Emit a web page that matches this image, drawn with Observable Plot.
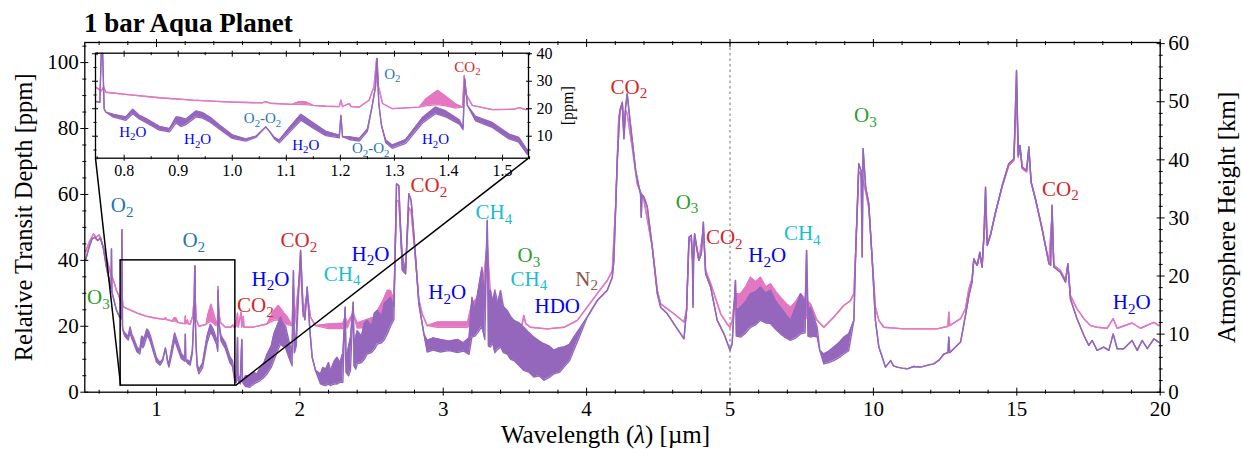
<!DOCTYPE html>
<html><head><meta charset="utf-8">
<script src="https://cdn.jsdelivr.net/npm/d3@7"></script>
<script src="https://cdn.jsdelivr.net/npm/@observablehq/plot@0.6"></script>
<style>
body{margin:0;background:#fff;width:1242px;height:449px;overflow:hidden;position:relative;font-family:"Liberation Serif",serif;}
#title{position:absolute;left:84px;top:10px;font-size:27px;line-height:27px;font-weight:bold;color:#000;white-space:nowrap;}
#chart{position:absolute;left:0;top:36px;}
#inset{position:absolute;left:85px;top:44px;}
</style></head><body>
<div id="title">1 bar Aqua Planet</div>
<div id="chart"></div>
<div id="inset"></div>
<script>
// ---------------- data: [wavelength µm, low ppm, high ppm (optional)] ----------------
const purpleSpectrum = [
[0.505,40],[0.53,44],[0.55,46.5],[0.57,47],[0.59,46],[0.61,46.8],[0.63,43.5],[0.65,38],[0.67,34],
[0.683,31.5],[0.686,43.5],[0.689,30.5],[0.70,28.5],[0.72,25],[0.74,23],[0.755,22.3],[0.759,49.3],[0.763,20],
[0.766,18.8],[0.779,17,18],[0.803,15.8,17],[0.816,18.2,19.8],[0.828,16.3,17.6],[0.840,15,16.5],[0.865,12.2,13.6],
[0.884,11.6,12.8],[0.896,14.8,17],[0.905,13.5,16.8],[0.914,14.2,16.2],[0.933,17,19.2],[0.945,16.6,18.6],[0.96,15,16.8],
[0.976,12.6,14.2],[1.0,9.2,10.5],[1.025,8.2,9],[1.044,9.6,10],[1.062,13.4],[1.07,11.5],[1.078,9,9.6],[1.087,7.6,8.6],
[1.105,11.2,13],[1.127,15.8,18],[1.149,13,15],[1.173,10.2,11.8],[1.198,9.4,10.4],[1.201,17.6],[1.204,9.8],
[1.216,8.8,9.8],[1.235,8.2,9.2],[1.250,11.8,12.6],[1.259,21.2],[1.265,28],[1.268,38.3],[1.271,22],[1.276,14],
[1.284,7.6,8.6],[1.296,5.6,6.8],[1.321,7.4,8.8],[1.352,14.8,16.8],[1.376,18.2,20.6],[1.395,17,19.2],[1.420,14.4,16],
[1.427,12.4,13.2],[1.430,30.9],[1.435,21.2],[1.45,15.6,17.2],[1.481,13.2,15],[1.512,9,10.8],[1.530,7.8,9.6],
[1.545,3.6,5.2],[1.553,3,4],[1.556,3],[1.565,16.5],[1.569,3.5],[1.585,2.5,5],[1.595,16],[1.60,3],[1.62,1.8,5],
[1.65,1.5,5],[1.68,2.5,6],[1.70,3,5.5],[1.726,3.6,7.6],[1.75,4.5,9],[1.772,5.6,11.6],[1.80,7.5,14],[1.819,9.6,17.7],
[1.84,12,20],[1.865,14.7,22.8],[1.88,14,21],[1.90,13.5,20],[1.923,10.6,15.7],[1.946,8,12],[1.955,36.9],[1.962,12],
[1.975,14,18],[2.005,43],[2.023,24.8],[2.035,22],[2.051,31.9],[2.07,18.7],[2.086,10.6],[2.109,6.6],[2.144,2.5,5.6],
[2.16,2.2,7.5],[2.18,2,7],[2.20,2.5,9],[2.214,2,6.6],[2.24,2.5,9.5],[2.26,2.5,10.6],[2.28,3,9],[2.30,3,12],[2.316,25.8],
[2.322,6,10],[2.34,5,14],[2.353,6.6,16.7],[2.372,27.3],[2.378,8,14],[2.39,7,17],[2.40,8.6,18.7],[2.43,9,17],
[2.45,10,21],[2.47,11.6,21.8],[2.50,12,20],[2.52,13,24],[2.54,14.6,24.8],[2.57,15,23],[2.59,16,27],
[2.61,17.7,27.8],[2.632,20,28.8],[2.656,22,26],[2.674,63.2],[2.69,62.7],[2.70,52],[2.714,37,42],[2.737,35.9],
[2.76,60.2],[2.776,58.2],[2.795,48],[2.807,41],[2.83,26.8],[2.865,17.7],[2.888,12.2,15.7],[2.93,12.8,16.5],
[2.98,12.2,16],[3.04,12.6,15.5],[3.1,12,16],[3.14,12.5,15],[3.18,11.5,16.5],[3.2,16.7,28.8],[3.22,17,25],
[3.24,18,30],[3.27,20,37.9],[3.29,16,28],[3.307,52.1],[3.315,14,30],[3.33,13.7,30.9],[3.345,15,27],
[3.36,12,31],[3.38,13,27],[3.40,13.7,30.9],[3.42,12,26],[3.446,11.6,24.8],[3.47,10,23],[3.493,9.6,21.8],
[3.53,8,21],[3.562,6.6,19.7],[3.60,6,18],[3.632,4.6,16.7],[3.67,5,15.5],[3.702,3.6,14.7],[3.74,4.5,14],
[3.772,5.6,12.7],[3.81,6,13.5],[3.842,7.6,13.7],[3.88,9.5,14.5],[3.911,12.7,16.7],[3.958,17.7,19.7],[4.004,22.8],
[4.074,27.8],[4.144,30.9],[4.179,34.9],[4.19,40],[4.202,55.1],[4.214,70.3],[4.232,85.5],[4.249,88],[4.26,76.9],
[4.272,86.5],[4.283,90.6],[4.295,85.5],[4.318,76.4],[4.342,67.3],[4.365,62.2],[4.376,60.2],[4.381,53.1],[4.386,60],
[4.40,59.2],[4.423,56.2],[4.458,44],[4.493,29.9],[4.516,25.8],[4.563,23.8],[4.609,20.7],[4.656,17.7],[4.679,16.2],
[4.697,24.8],[4.714,47],[4.73,47.6],[4.738,40],[4.742,25.8],[4.746,40],[4.753,48.1],[4.783,40],[4.80,42],[4.814,51.6],
[4.83,35.9],[4.865,31.9],[4.911,21.8],[4.958,17.7],[5.0,12.7],[5.076,14.7],[5.19,33.9],[5.22,17,25],[5.37,16.7,25.8],
[5.55,18,27.5],[5.715,19.7,29.9],[5.9,20.5,30.5],[6.06,21.8,31.9],[6.25,21,30],[6.41,20.8,30.9],[6.6,19,27.5],
[6.76,17.7,25.8],[6.95,16.5,23.5],[7.11,15.7,21.8],[7.3,16.5,26],[7.46,17.7,29.9],[7.62,18,27],[7.67,43],[7.72,17,25],
[7.81,16.7,25.8],[7.92,17,23],[8.04,16.7,19.7],[8.13,12.7],[8.27,8.6,11.6],[8.45,9,12.5],[8.62,9.6,13.7],
[8.8,10.5,15],[8.97,11.6,16.7],[9.14,12.6,17.7],[9.32,21.8],[9.38,42],[9.49,69.3],[9.57,67.3],[9.61,41],[9.64,73.9],
[9.73,62.2],[9.84,57.2],[9.96,40],[10.07,21.8],[10.19,13.7],[10.31,10.6],[10.42,7.6],[10.6,9.6],[10.7,8],[10.83,7.6],
[11.0,7.3],[11.18,7.1],[11.4,7.8],[11.64,7.6],[11.9,8.2],[12.1,8.6],[12.3,9.8],[12.46,11.6],[12.6,12],[12.63,16.7],
[12.66,12],[12.8,13.2],[13.04,15.2],[13.21,23.3],[13.33,29.3],[13.44,33.4],[13.5,40.5],[13.62,38.5],[13.71,42.5],
[13.79,38],[13.85,47.1],[13.91,62.2],[13.97,44.5],[14.08,47.6],[14.26,54.6],[14.49,62.7],[14.72,69.3],[14.9,70.8],
[14.99,97.6],[15.05,71.8],[15.11,74.9],[15.19,68.3],[15.34,67.3],[15.42,74.4],[15.5,63.8],[15.65,58.7],[15.88,49.6],
[16.12,39],[16.18,38.5],[16.23,56.7],[16.29,38],[16.52,36.4],[16.7,33.4],[16.78,39],[16.87,28.3],[17.1,22.3],
[17.34,17.2],[17.51,14.2],[17.63,15.7],[17.8,12.7],[18.03,13.7],[18.21,12.7],[18.36,17.7],[18.5,13.2],[18.73,13.2],
[19.02,15.7],[19.2,12.7],[19.37,15.7],[19.55,13.2],[19.78,16.2],[19.95,15.2],[20,15]
];
const pinkSpectrum = [
[0.505,42.5],[0.53,45.5],[0.56,48],[0.58,47],[0.60,47.8],[0.63,44],[0.656,40],[0.68,36],[0.70,33.9],[0.72,31],
[0.737,29.3],[0.75,27.5],[0.758,26.5],[0.762,28],[0.766,26],[0.803,25.2],[0.865,24.0],[0.927,23.1],[0.988,22.5],
[1.055,22.1],[1.062,22.6],[1.07,22],[1.111,21.6],[1.124,21.6,22.6],[1.136,21.5,22.5],[1.15,21.2],[1.173,20.9],
[1.198,20.8],[1.201,23.1],[1.204,20.8],[1.216,21.9],[1.22,20.8],[1.235,20.6],[1.253,23.1],[1.262,27.9],[1.267,38.2],
[1.270,28.5],[1.278,21.9],[1.296,20.0],[1.346,20.6],[1.358,21,23.5],[1.38,21.5,26.7],[1.395,21,24.5],[1.413,20.2,21.8],
[1.426,20.6],[1.429,32.1],[1.432,25.5],[1.444,21.2],[1.481,19.7],[1.52,19.8],[1.531,20.4],[1.543,19.7],[1.553,19.9],
[1.565,24],[1.57,19.8],[1.59,24.3],[1.595,19.8],[1.605,23],[1.61,19.7],[1.68,19.8],[1.77,20.7],[1.82,21.8,24.8],
[1.85,22,26.3],[1.89,21,24],[1.91,20.5,23],[1.946,20.2],[1.955,32],[1.962,20.5],[2.005,38],[2.023,23],[2.051,30],
[2.074,22.8],[2.109,20.2],[2.2,19.3,20.7],[2.3,19.3,20.9],[2.316,23],[2.33,19.5,21],[2.372,24],[2.40,19.5,21],
[2.516,19.8,22.8],[2.58,21,27.8],[2.61,24.8,30.9],[2.632,26,30.9],[2.656,28],[2.674,58],[2.69,58],[2.70,50],
[2.714,40],[2.737,37.5],[2.76,56],[2.776,55],[2.795,46],[2.807,40],[2.83,28],[2.853,23.8],[2.888,20.2],
[2.96,19.7,21.3],[3.17,19.7,21.3],[3.2,20.5,27],[3.27,22,30],[3.307,45],[3.33,21.8,29.9],[3.40,19.7,22.8],
[3.493,20.7],[3.55,20.5],[3.562,23.3],[3.575,20.8],[3.609,19.7],[3.725,19.2],[3.842,19.7],[3.935,21.8],[4.004,25.8],
[4.074,29.9],[4.144,33.9],[4.179,36.9],[4.202,56.2],[4.224,83.5],[4.249,87.5],[4.26,78.4],[4.272,85.5],[4.283,84.5],
[4.318,74.4],[4.353,63.2],[4.40,58.2],[4.458,44],[4.493,30.9],[4.516,26.8],[4.609,23.8],[4.679,21.3],[4.697,24.8],
[4.714,46],[4.73,46.5],[4.742,38],[4.753,47],[4.783,40],[4.814,49],[4.83,37],[4.865,33],[4.935,23.8],[4.98,20.7],
[5.0,19.7],[5.076,21.8],[5.19,29.9],[5.37,21.8,29.9],[5.55,22.5,32],[5.715,23.8,34.9],[5.9,24,33.5],[6.06,23.8,34.9],
[6.25,23.5,32],[6.41,23.8,32.9],[6.6,22.5,30.5],[6.76,21.8,28.8],[6.95,21.8,27],[7.11,21.8,25.8],[7.3,21.8,27.5],
[7.46,21.8,29.9],[7.81,22.8,26.8],[8.04,21.8],[8.27,19.7],[8.62,22.8],[8.97,26.3],
[9.2,27.8],[9.32,29.9],[9.38,42],[9.49,67],[9.57,66],[9.64,64],[9.73,61],[9.84,56],[9.96,40],[10.07,25.8],
[10.19,21.8],[10.36,19.7],[11.06,19.2],[12.22,19.2],[12.6,20],[12.63,24.3],[12.66,20.2],[13.04,22.3],[13.21,25.3],
[13.33,31.4],[13.44,34.4],[13.5,40],[13.62,38.5],[13.71,42],[13.79,38],[13.85,46.5],[13.91,55],[13.97,45],
[14.08,47.6],[14.26,54.6],[14.49,62.3],[14.72,68.8],[14.9,70.3],[14.99,92],[15.05,71.3],[15.11,74],[15.19,67.8],
[15.34,66.8],[15.42,73.5],[15.5,63.5],[15.65,58.5],[15.88,49.6],[16.12,39.5],[16.23,54],[16.29,38.5],[16.52,37],
[16.7,34],[16.78,38.5],[16.87,29.3],[17.1,25.3],[17.34,22.3],[17.57,20.2],[17.8,19.7],[18.15,19.4],[18.36,22.3],
[18.5,19.4],[19.02,21.0],[19.31,19.4],[19.78,21.2],[19.95,20.2],[20,20.5]
];
const insetBox = {x1: 0.75, x2: 1.55, y1: 2, y2: 40};
const xMajor = [1, 2, 3, 4, 5, 10, 15, 20];
const yMajor = [0, 20, 40, 60, 80, 100];
const kmMajor = [0, 10, 20, 30, 40, 50, 60];
const insetXMajor = [0.8, 0.9, 1.0, 1.1, 1.2, 1.3, 1.4, 1.5];
const insetYMajor = [10, 20, 30, 40];
const mainLabels = [
  {t:"O_3",x:0.595,y:28.8},{t:"O_2",x:0.761,y:56.7},{t:"O_2",x:1.26,y:46},{t:"CO_2",x:1.69,y:26.3},
  {t:"H_2O",x:1.795,y:34.4},{t:"CO_2",x:1.993,y:46},{t:"CH_4",x:2.295,y:35.9},{t:"H_2O",x:2.493,y:42},
  {t:"CO_2",x:2.9,y:62.7},{t:"H_2O",x:3.028,y:30.3},{t:"CH_4",x:3.353,y:54.6},{t:"O_3",x:3.597,y:41.5},
  {t:"CH_4",x:3.597,y:34.4},{t:"HDO",x:3.795,y:26.2},{t:"N_2",x:4.0,y:34.4},{t:"CO_2",x:4.295,y:92.6},
  {t:"O_3",x:4.70,y:57.7},{t:"CO_2",x:4.96,y:47},{t:"H_2O",x:6.30,y:41.5},{t:"CH_4",x:7.52,y:48.1},
  {t:"O_3",x:9.72,y:84},{t:"CO_2",x:16.52,y:61.7},{t:"H_2O",x:19.01,y:27.3}
];
const insetLabels = [
  {t:"H_2O",x:0.816,y:11.6},{t:"H_2O",x:0.936,y:8.8},{t:"O_2-O_2",x:1.056,y:16.4},{t:"H_2O",x:1.136,y:6.7},
  {t:"O_2-O_2",x:1.256,y:5.5},{t:"O_2",x:1.296,y:32.7},{t:"CO_2",x:1.435,y:35.2},{t:"H_2O",x:1.376,y:8.8}
];
const speciesColor = {"O2":"#1f77b4","O2-O2":"#1f77b4","CO2":"#d62728","H2O":"#0000ff","HDO":"#0000ff",
  "CH4":"#17becf","O3":"#2ca02c","N2":"#8c564b"};
const pinkColor = "#e377c2", purpleColor = "#9467bd";

// ---------------- layout ----------------
const W = 1242, H = 413, mT = 6, mB = 57.3, mL = 84.3, mR = 82.3;
const yMax = 106.1, kmMax = 60.2, f = yMax / kmMax;
const xOpts = {type: "linear", domain: [0.5, 5, 20], range: [mL, 729.5, W - mR]};
const yOpts = {domain: [0, yMax], range: [H - mB, mT]};
const X = Plot.scale({x: xOpts}), Y = Plot.scale({y: yOpts});
const inX = 85, inY = 8, inW = 500, inH = 135;
const inML = 10, inMR = 57, inMT = 8.7, inMB = 21.3;
const connectors = [
  {x1: insetBox.x1, y1: insetBox.y1, x2: X.invert(inX + inML), y2: Y.invert(inY + inH - inMB)},
  {x1: insetBox.x2, y1: insetBox.y1, x2: X.invert(inX + inW - inMR), y2: Y.invert(inY + inH - inMB)}
];

const lo = d => d[1], hi = d => d.length > 2 ? d[2] : d[1], wl = d => d[0];
const species = s => s.replace(/_/g, "");
function spectrumMarks(data, color, sw) {
  return [
    Plot.areaY(data, {x: wl, y1: lo, y2: hi, fill: color, clip: true}),
    Plot.line(data, {x: wl, y: lo, stroke: color, strokeWidth: sw, clip: true}),
    Plot.line(data, {x: wl, y: hi, stroke: color, strokeWidth: sw, clip: true})
  ];
}
function tickAxesX(vals, size) {
  return [
    Plot.axisX(vals, {anchor: "bottom", tickSize: size, dy: -size / 2, fill: "none", label: null, strokeWidth: 1}),
    Plot.axisX(vals, {anchor: "top", tickSize: size, dy: size / 2, fill: "none", label: null, strokeWidth: 1})
  ];
}
function tickAxisY(vals, size, anchor) {
  return Plot.axisY(vals, {anchor, tickSize: size, dx: anchor === "left" ? size / 2 : -size / 2, fill: "none", label: null, strokeWidth: 1});
}

const xMinor = d3.range(6, 50, 2).map(v => v / 10).filter(v => Math.abs(v - Math.round(v)) > 1e-9)
  .concat([6, 7, 8, 9, 11, 12, 13, 14, 16, 17, 18, 19]);
const yMinor = d3.range(5, 106, 5).filter(v => v % 20);
const kmMinor = d3.range(2, 61, 2).filter(v => v % 10);

const main = Plot.plot({
  width: W, height: H, marginTop: mT, marginBottom: mB, marginLeft: mL, marginRight: mR,
  x: xOpts, y: yOpts, color: {type: "identity"},
  style: {fontFamily: "Liberation Serif", fontSize: "21px", color: "black", background: "white", overflow: "visible"},
  marks: [
    Plot.ruleX([5], {stroke: "#707070", strokeDasharray: "2.5,3", strokeWidth: 1}),
    ...spectrumMarks(pinkSpectrum, pinkColor, 1.4),
    ...spectrumMarks(purpleSpectrum, purpleColor, 1.4),
    Plot.rect([insetBox], {x1: "x1", x2: "x2", y1: "y1", y2: "y2", fill: "none", stroke: "black", strokeWidth: 1.5}),
    Plot.link(connectors, {x1: "x1", y1: "y1", x2: "x2", y2: "y2", stroke: "black", strokeWidth: 1.5}),
    Plot.text(mainLabels, {x: "x", y: "y", text: "t", fill: d => speciesColor[species(d.t)], fontSize: 21, className: "mol"}),
    Plot.frame({stroke: "black", strokeWidth: 1.3}),
    ...tickAxesX(xMajor, 8), ...tickAxesX(xMinor, 4),
    tickAxisY(yMajor, 8, "left"), tickAxisY(yMinor, 4, "left"),
    tickAxisY(kmMajor.map(k => k * f), 8, "right"), tickAxisY(kmMinor.map(k => k * f), 4, "right"),
    Plot.axisX(xMajor, {anchor: "bottom", tickSize: 0, tickPadding: 9, label: null}),
    Plot.axisY(yMajor, {anchor: "left", tickSize: 0, tickPadding: 6, label: null}),
    Plot.axisY(kmMajor.map(k => k * f), {anchor: "right", tickSize: 0, tickPadding: 8, label: null, tickFormat: d => Math.round(d / f)}),
    Plot.text(["Relative Transit Depth [ppm]"], {frameAnchor: "left", textAnchor: "middle", lineAnchor: "middle", dx: -61, rotate: -90, fontSize: 24.5}),
    Plot.text(["Atmosphere Height [km]"], {frameAnchor: "right", textAnchor: "middle", lineAnchor: "middle", dx: 67, rotate: -90, fontSize: 25}),
    Plot.text(["Wavelength (λ) [µm]"], {frameAnchor: "bottom", textAnchor: "middle", lineAnchor: "middle", dx: -17, dy: 43, fontSize: 25, className: "xlab"})
  ]
});

const inset = Plot.plot({
  width: inW, height: inH, marginTop: inMT, marginBottom: inMB, marginLeft: inML, marginRight: inMR,
  x: {domain: [0.747, 1.548]}, y: {domain: [2, 40.2]}, color: {type: "identity"},
  style: {fontFamily: "Liberation Serif", fontSize: "16px", color: "black", background: "transparent", overflow: "visible"},
  marks: [
    Plot.frame({fill: "white", stroke: "none"}),
    ...spectrumMarks(pinkSpectrum, pinkColor, 1.3),
    ...spectrumMarks(purpleSpectrum, purpleColor, 1.3),
    Plot.text(insetLabels, {x: "x", y: "y", text: "t", fill: d => speciesColor[species(d.t)], fontSize: 15, className: "mol"}),
    Plot.frame({stroke: "black", strokeWidth: 1.3}),
    ...tickAxesX(insetXMajor, 6), ...tickAxesX(d3.range(0.75, 1.56, 0.1), 3),
    tickAxisY(insetYMajor, 6, "left"), tickAxisY([5, 15, 25, 35], 3, "left"),
    tickAxisY(insetYMajor, 6, "right"), tickAxisY([5, 15, 25, 35], 3, "right"),
    Plot.axisX(insetXMajor, {anchor: "bottom", tickSize: 0, tickPadding: 6, label: null, tickFormat: d => d.toFixed(1)}),
    Plot.axisY(insetYMajor, {anchor: "right", tickSize: 0, tickPadding: 8, label: null}),
    Plot.text(["[ppm]"], {frameAnchor: "right", textAnchor: "middle", lineAnchor: "middle", dx: 39, rotate: -90, fontSize: 16})
  ]
});

// subscripts & italic lambda as real text tspans
const NS = "http://www.w3.org/2000/svg";
function subscriptify(root) {
  root.querySelectorAll("g.mol text").forEach(t => {
    const s = t.textContent; if (!s.includes("_")) return;
    const fs = parseFloat(t.closest("g").getAttribute("font-size")) || 20;
    t.textContent = "";
    const parts = s.split(/_(\d)/);
    let shifted = false;
    parts.forEach((p, i) => {
      if (!p) return;
      const ts = document.createElementNS(NS, "tspan");
      ts.textContent = p;
      if (i % 2 === 1) { ts.setAttribute("font-size", (fs * 0.72) + "px"); ts.setAttribute("dy", (fs * 0.22) + "px"); shifted = true; }
      else if (shifted) { ts.setAttribute("dy", (-fs * 0.22) + "px"); shifted = false; }
      t.appendChild(ts);
    });
  });
  root.querySelectorAll("g.xlab text").forEach(t => {
    const s = t.textContent; const k = s.indexOf("λ"); if (k < 0) return;
    t.textContent = "";
    [[s.slice(0, k), false], ["λ", true], [s.slice(k + 1), false]].forEach(([p, it]) => {
      const ts = document.createElementNS(NS, "tspan"); ts.textContent = p;
      if (it) ts.setAttribute("font-style", "italic");
      t.appendChild(ts);
    });
  });
}
subscriptify(main); subscriptify(inset);
document.getElementById("chart").appendChild(main);
document.getElementById("inset").appendChild(inset);
</script>
</body></html>
